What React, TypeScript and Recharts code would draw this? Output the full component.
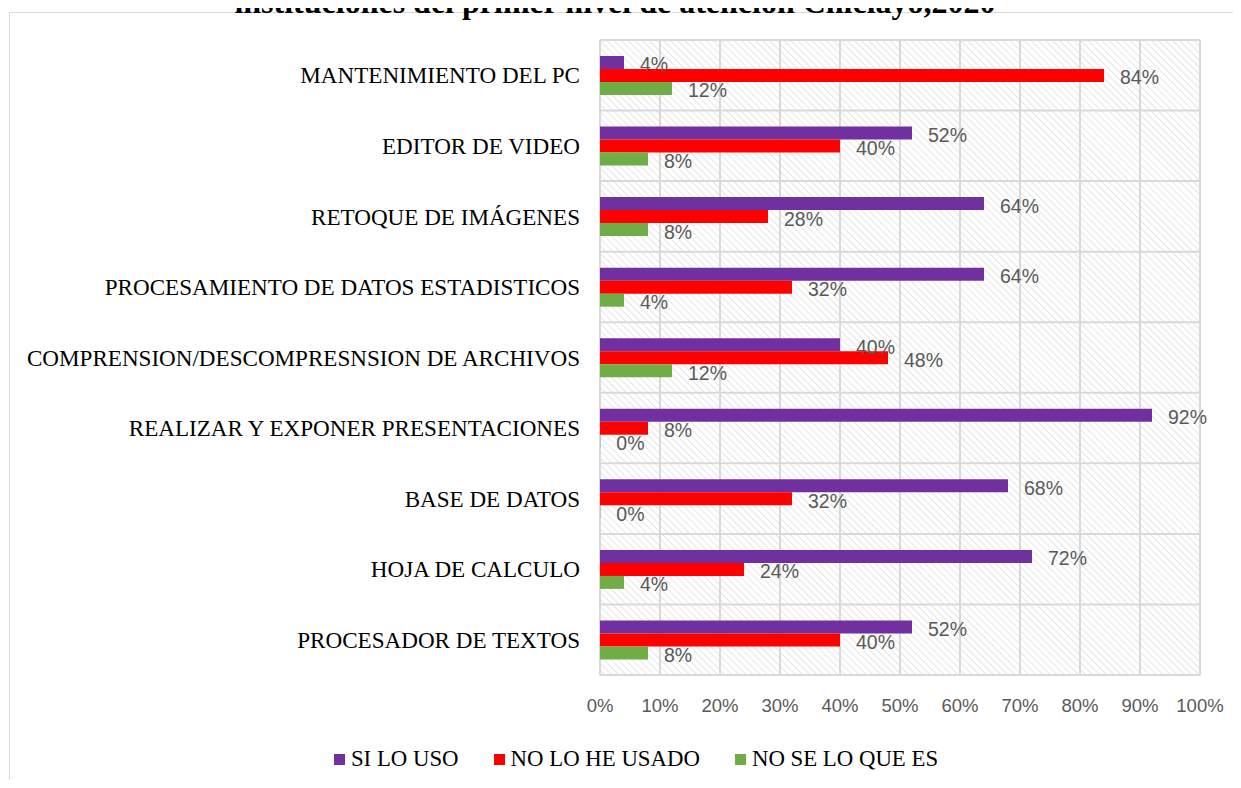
import React from 'react';
import {
  BarChart,
  Bar,
  XAxis,
  YAxis,
  CartesianGrid,
  Legend,
  LabelList,
} from 'recharts';

const categories = [
  'MANTENIMIENTO DEL PC',
  'EDITOR DE VIDEO',
  'RETOQUE DE IMÁGENES',
  'PROCESAMIENTO DE DATOS ESTADISTICOS',
  'COMPRENSION/DESCOMPRESNSION DE ARCHIVOS',
  'REALIZAR Y EXPONER PRESENTACIONES',
  'BASE DE DATOS',
  'HOJA DE CALCULO',
  'PROCESADOR DE TEXTOS',
];

const siLoUso = [4, 52, 64, 64, 40, 92, 68, 72, 52];
const noLoHeUsado = [84, 40, 28, 32, 48, 8, 32, 24, 40];
const noSeLoQueEs = [12, 8, 8, 4, 12, 0, 0, 4, 8];

const seriesNames = ['SI LO USO', 'NO LO HE USADO', 'NO SE LO QUE ES'];
const xTicks = [0, 10, 20, 30, 40, 50, 60, 70, 80, 90, 100];

const data = categories.map((name, i) => ({
  name,
  si: siLoUso[i],
  no: noLoHeUsado[i],
  nose: noSeLoQueEs[i],
}));

const SERIF = '"Liberation Serif", "Times New Roman", serif';
const SANS = '"Liberation Sans", Arial, sans-serif';

const labelStyle = { fill: '#595959', fontSize: 19.5, fontFamily: SANS };
const pct = (v: any) => `${v}%`;

const renderLegend = (props: any) => {
  const items = [...props.payload].sort(
    (a: any, b: any) => seriesNames.indexOf(a.value) - seriesNames.indexOf(b.value)
  );
  return (
    <div
      style={{
        height: 30,
        display: 'flex',
        justifyContent: 'center',
        alignItems: 'center',
        paddingLeft: 72,
        fontFamily: SERIF,
        fontSize: 22.8,
        color: '#000',
      }}
    >
      {items.map((entry: any, i: number) => (
        <div
          key={entry.value}
          style={{ display: 'flex', alignItems: 'center', marginLeft: i === 0 ? 0 : 35 }}
        >
          <span
            style={{ width: 11, height: 11, background: entry.color, marginRight: 6, display: 'inline-block' }}
          />
          <span>{entry.value}</span>
        </div>
      ))}
    </div>
  );
};

export default function App() {
  return (
    <div
      style={{
        position: 'relative',
        width: 1241,
        height: 788,
        margin: -8,
        overflow: 'hidden',
        background: '#fff',
      }}
    >
      <svg width={0} height={0} style={{ position: 'absolute' }}>
        <defs>
          <pattern id="hatch" width={5} height={5} patternUnits="userSpaceOnUse" patternTransform="rotate(-45)">
            <line x1={0} y1={0} x2={0} y2={5} stroke="#d3d3d3" strokeWidth={1.2} />
          </pattern>
        </defs>
      </svg>
      <div
        style={{
          position: 'absolute',
          left: 9,
          top: 12,
          width: 1300,
          height: 900,
          border: '1.5px solid #d9d9d9',
        }}
      />
      <svg width={1241} height={24} style={{ position: 'absolute', left: 0, top: 0 }}>
        <text
          x={615}
          y={13}
          textAnchor="middle"
          fontFamily={SERIF}
          fontWeight="bold"
          fontSize={32}
          fill="#000"
        >
          instituciones del primer nivel de atención Chiclayo,2020
        </text>
      </svg>
      <div style={{ position: 'absolute', left: 0, top: 0 }}>
        <BarChart
          width={1241}
          height={788}
          data={data}
          layout="vertical"
          margin={{ top: 40, right: 41, left: 0, bottom: 14 }}
          barGap={0}
          barSize={13}
        >
          <CartesianGrid
            stroke="#d9d9d9"
            strokeWidth={2}
            fill="url(#hatch)"
            fillOpacity={1}
            horizontalCoordinatesGenerator={({ offset }: any) =>
              categories
                .map((_, i) => offset.top + (i * offset.height) / categories.length)
                .concat(offset.top + offset.height)
            }
          />
          <XAxis
            type="number"
            domain={[0, 100]}
            ticks={xTicks}
            tickFormatter={pct}
            axisLine={false}
            tickLine={false}
            tickSize={0}
            tickMargin={24}
            height={69}
            interval={0}
            tick={{ fill: '#595959', fontSize: 18.5, fontFamily: SANS }}
          />
          <YAxis
            type="category"
            dataKey="name"
            width={600}
            axisLine={false}
            tickLine={false}
            tickSize={0}
            tickMargin={20}
            interval={0}
            tick={{ fill: '#000', fontSize: 23.1, fontFamily: SERIF }}
          />
          <Legend verticalAlign="bottom" content={renderLegend} />
          <Bar dataKey="si" name="SI LO USO" fill="#7030A0" minPointSize={0.3} isAnimationActive={false}>
            <LabelList dataKey="si" position="right" offset={16} dy={2} formatter={pct} style={labelStyle} />
          </Bar>
          <Bar dataKey="no" name="NO LO HE USADO" fill="#FF0000" minPointSize={0.3} isAnimationActive={false}>
            <LabelList dataKey="no" position="right" offset={16} dy={2} formatter={pct} style={labelStyle} />
          </Bar>
          <Bar dataKey="nose" name="NO SE LO QUE ES" fill="#70AD47" minPointSize={0.3} isAnimationActive={false}>
            <LabelList dataKey="nose" position="right" offset={16} dy={2} formatter={pct} style={labelStyle} />
          </Bar>
        </BarChart>
      </div>
    </div>
  );
}
